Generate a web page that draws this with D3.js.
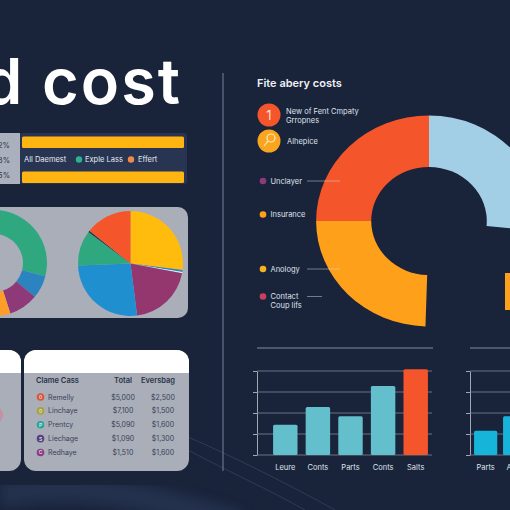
<!DOCTYPE html>
<html>
<head>
<meta charset="utf-8">
<script src="https://cdnjs.cloudflare.com/ajax/libs/d3/7.8.5/d3.min.js"></script>
<style>
  html, body { margin: 0; padding: 0; background: #19233a; overflow: hidden; }
  svg { display: block; }
  text { font-family: Inter, "Noto Sans", sans-serif; }
</style>
</head>
<body>
<script>
// values
var titleText = "d cost";
var sideTitle = "Fite abery costs";

var topRows = ["12%", "18%", "15%"];
var topBarNames = ["first", "middle", "last"];
var topBarValues = [100, 0, 100];
var topLegend = ["All Daemest", "Exple Lass", "Effert"];

var ringValues = [29, 7, 9, 15, 40];
var ringColors = ["#2fa87f", "#2b84c0", "#8e3a78", "#ff9d2b", "#f4552a"];
var pieValues = [27, 0.6, 0.4, 20, 26.4, 10.8, 0.5, 14.3];
var pieColors = ["#ffbc0d", "#2b84c0", "#e8ecf2", "#94376f", "#1f8fd0", "#2fa87f", "#232c45", "#f4552a"];

var tableHead = ["Clame Cass", "Total", "Eversbag"];
var tableNames = ["Remelly", "Linchaye", "Prentcy", "Liechage", "Redhaye"];
var tableTotal = ["$5,000", "$7,100", "$5,090", "$1,090", "$1,510"];
var tableOther = ["$2,500", "$1,500", "$1,600", "$1,300", "$1,600"];
var tableDots = ["#d8553f", "#a9a23d", "#2ba59b", "#59407f", "#8a3d84"];
var tableIcons = ["0", "0", "P", "S", "C"];

var donutValues = [26.5, 24, 24.5, 25];
var donutColors = ["#a3cfe6", "none", "#ffa01a", "#f4552a"];

var calloutNames = ["Unclayer", "Insurance", "Anology", "Contact"];
var calloutDots = ["#8e3a78", "#ffa01a", "#f5b221", "#c9405f"];

var barCats = ["Leure", "Conts", "Parts", "Conts ", "Salts"];
var barValues = [36, 57, 46, 82, 102];
var barColors = ["#62bfcb", "#62bfcb", "#62bfcb", "#62bfcb", "#f4552a"];

var bar2Cats = ["Parts", "Apts"];
var bar2Values = [29, 46];

var gridTicks = [0, 25, 50, 75, 100];

var width = 510, height = 510;
var svg = d3.select("body").append("svg").attr("width", width).attr("height", height);

// faint swooshes behind everything
svg.append("filter").attr("id", "soft").append("feGaussianBlur").attr("stdDeviation", 6);
var bands = [
  "M0 495 C70 480 150 495 240 525"
];
svg.selectAll("path.band").data(bands).enter().append("path")
  .attr("class", "band").attr("d", d => d)
  .attr("fill", "none").attr("stroke", "#2a3a5a").attr("stroke-width", 26)
  .attr("opacity", 0.6).attr("filter", "url(#soft)");
var swoosh = [
  "M188 437 C230 455 290 485 335 510",
  "M188 450 C225 470 270 490 305 510"
];
svg.selectAll("path.swoosh").data(swoosh).enter().append("path")
  .attr("class", "swoosh").attr("d", d => d)
  .attr("fill", "none").attr("stroke", "#34415f").attr("stroke-width", 1).attr("opacity", 0.8);

// divider
svg.append("line").attr("x1", 223).attr("x2", 223).attr("y1", 73).attr("y2", 471)
  .attr("stroke", "#78839a").attr("stroke-width", 1);

// title
svg.append("text").attr("x", 182).attr("y", 104).attr("text-anchor", "end")
  .attr("fill", "#fff").attr("font-size", 63).attr("font-weight", 600).attr("letter-spacing", 2).text(titleText);

// top block
svg.append("rect").attr("x", 20).attr("y", 133).attr("width", 167).attr("height", 51).attr("rx", 3).attr("fill", "#273552");
svg.append("rect").attr("x", -10).attr("y", 133).attr("width", 30).attr("height", 51).attr("fill", "#aab1bc");

var xTop = d3.scaleLinear().domain([0, 100]).range([22, 184]);
var yTop = d3.scaleBand().domain(topBarNames).range([133.5, 186]).paddingInner(0.34).paddingOuter(0.17);
svg.selectAll("rect.top").data(topBarValues).enter().append("rect")
  .attr("class", "top")
  .attr("x", xTop(0))
  .attr("y", (d, i) => yTop(topBarNames[i]))
  .attr("width", d => xTop(d) - xTop(0))
  .attr("height", yTop.bandwidth())
  .attr("rx", 1.5)
  .attr("fill", "#ffb511");

var yRows = d3.scalePoint().domain(topRows).range([148, 178]);
svg.selectAll("text.row").data(topRows).enter().append("text")
  .attr("class", "row").attr("x", 10).attr("y", d => yRows(d))
  .attr("text-anchor", "end").attr("font-size", 7.5).attr("fill", "#2a3348").text(d => d);

svg.append("text").attr("x", 24).attr("y", 162).attr("font-size", 7.5).attr("fill", "#e6eaf0").text(topLegend[0]);
svg.append("circle").attr("cx", 79).attr("cy", 159.5).attr("r", 3.2).attr("fill", "#2fb08f");
svg.append("text").attr("x", 85).attr("y", 162).attr("font-size", 7.5).attr("fill", "#e6eaf0").text(topLegend[1]);
svg.append("circle").attr("cx", 131).attr("cy", 159.5).attr("r", 3.2).attr("fill", "#ef8a4a");
svg.append("text").attr("x", 138).attr("y", 162).attr("font-size", 7.5).attr("fill", "#e6eaf0").text(topLegend[2]);

// pies panel
svg.append("rect").attr("x", -20).attr("y", 207).attr("width", 208).attr("height", 111).attr("rx", 10).attr("fill", "#a9aeb9");

var pieGen = d3.pie().sort(null);
var ringArc = d3.arc().innerRadius(29).outerRadius(53);
svg.append("g").attr("transform", "translate(-6,263)")
  .selectAll("path").data(pieGen(ringValues)).enter().append("path")
  .attr("d", ringArc).attr("fill", (d, i) => ringColors[i]);

var pieArc = d3.arc().innerRadius(0).outerRadius(52.5);
svg.append("g").attr("transform", "translate(130.5,263.5)")
  .selectAll("path").data(pieGen(pieValues)).enter().append("path")
  .attr("d", pieArc).attr("fill", (d, i) => pieColors[i]);

// table panels
function tablePanel(x, w) {
  var id = "clip" + (x + 100);
  svg.append("clipPath").attr("id", id).append("rect")
    .attr("x", x).attr("y", 350).attr("width", w).attr("height", 121).attr("rx", 12);
  var g = svg.append("g").attr("clip-path", "url(#" + id + ")");
  g.append("rect").attr("x", x).attr("y", 350).attr("width", w).attr("height", 121).attr("fill", "#a9aeb9");
  g.append("rect").attr("x", x).attr("y", 350).attr("width", w).attr("height", 23).attr("fill", "#fff");
  return g;
}
var leftPanel = tablePanel(-30, 51);
leftPanel.append("circle").attr("cx", -6).attr("cy", 415).attr("r", 9).attr("fill", "#c98a98").attr("opacity", 0.8);
tablePanel(24, 165);

var yTable = d3.scalePoint().domain(tableNames).range([399.5, 455]);
svg.append("text").attr("x", 36).attr("y", 383).attr("font-size", 7.5).attr("font-weight", 600).attr("fill", "#2a3348").text(tableHead[0]);
svg.append("text").attr("x", 123).attr("y", 383).attr("text-anchor", "middle").attr("font-size", 7.5).attr("font-weight", 600).attr("fill", "#2a3348").text(tableHead[1]);
svg.append("text").attr("x", 158).attr("y", 383).attr("text-anchor", "middle").attr("font-size", 7.5).attr("font-weight", 600).attr("fill", "#2a3348").text(tableHead[2]);

var rows = svg.selectAll("g.trow").data(tableNames).enter().append("g")
  .attr("class", "trow").attr("transform", d => "translate(0," + yTable(d) + ")");
rows.append("circle").attr("cx", 40.5).attr("cy", -2.5).attr("r", 3.8).attr("fill", (d, i) => tableDots[i]);
rows.append("text").attr("x", 40.5).attr("y", -0.6).attr("text-anchor", "middle").attr("font-size", 5).attr("fill", "#fff").text((d, i) => tableIcons[i]);
rows.append("text").attr("x", 48).attr("font-size", 7).attr("fill", "#3a4258").text(d => d);
rows.append("text").attr("x", 123).attr("text-anchor", "middle").attr("font-size", 7).attr("fill", "#3a4258").text((d, i) => tableTotal[i]);
rows.append("text").attr("x", 163).attr("text-anchor", "middle").attr("font-size", 7).attr("fill", "#3a4258").text((d, i) => tableOther[i]);

// right side
svg.append("text").attr("x", 257).attr("y", 87).attr("font-size", 11).attr("font-weight", 600).attr("fill", "#eef1f5").text(sideTitle);

svg.append("circle").attr("cx", 269).attr("cy", 115).attr("r", 11.5).attr("fill", "#f4552a");
svg.append("text").attr("x", 269).attr("y", 120).attr("text-anchor", "middle").attr("font-size", 13).attr("fill", "#ffe2d2").text("1");
svg.append("circle").attr("cx", 269).attr("cy", 141).attr("r", 11.5).attr("fill", "#f9a51e");
svg.append("circle").attr("cx", 271).attr("cy", 138).attr("r", 4).attr("fill", "none").attr("stroke", "#ffe9c4").attr("stroke-width", 1.2);
svg.append("line").attr("x1", 268).attr("y1", 141).attr("x2", 264).attr("y2", 146).attr("stroke", "#ffe9c4").attr("stroke-width", 1.2);
svg.append("text").attr("x", 286).attr("y", 114).attr("font-size", 7.5).attr("fill", "#dfe4ec").text("New of Fent Cmpaty");
svg.append("text").attr("x", 286).attr("y", 123).attr("font-size", 7.5).attr("fill", "#dfe4ec").text("Grropnes");
svg.append("text").attr("x", 287).attr("y", 143.5).attr("font-size", 7.5).attr("fill", "#dfe4ec").text("Alhepice");

// big donut, it is a bit wider than high in the picture
var donutArc = d3.arc().innerRadius(54).outerRadius(105.5);
svg.append("g").attr("transform", "translate(429,221) scale(1.07,1)")
  .selectAll("path").data(pieGen(donutValues)).enter().append("path")
  .attr("d", donutArc).attr("fill", (d, i) => donutColors[i]);

// cut off orange block on the right edge
svg.append("rect").attr("x", 505).attr("y", 273).attr("width", 10).attr("height", 37).attr("fill", "#ffa01a");

// callouts
var calloutY = [181, 214.5, 269, 296.5];
var calloutEnd = [340, null, 340, 322];
calloutNames.forEach(function(name, i) {
  svg.append("circle").attr("cx", 263).attr("cy", calloutY[i]).attr("r", 3.3).attr("fill", calloutDots[i]);
  svg.append("text").attr("x", 270.5).attr("y", calloutY[i] + 2.6).attr("font-size", 7.5).attr("fill", "#dfe4ec").text(name);
  if (calloutEnd[i]) {
    svg.append("line").attr("x1", 307).attr("x2", calloutEnd[i]).attr("y1", calloutY[i]).attr("y2", calloutY[i])
      .attr("stroke", "#d8dde6").attr("stroke-opacity", 0.6).attr("stroke-width", 0.8);
  }
});
svg.append("text").attr("x", 270.5).attr("y", 308).attr("font-size", 7.5).attr("fill", "#dfe4ec").text("Coup lifs");

// rules above the bar charts
svg.append("line").attr("x1", 257).attr("x2", 433).attr("y1", 348).attr("y2", 348).attr("stroke", "#a0a8b6").attr("stroke-width", 0.8);
svg.append("line").attr("x1", 470).attr("x2", 510).attr("y1", 348).attr("y2", 348).attr("stroke", "#a0a8b6").attr("stroke-width", 0.8);

// bar charts
var y = d3.scaleLinear().domain([0, 100]).range([455, 371]);

function drawBars(cats, vals, colors, axisX, x0, x1, gridEnd, pIn, pOut) {
  var x = d3.scaleBand().domain(cats).range([x0, x1]).paddingInner(pIn).paddingOuter(pOut);
  var axis = svg.append("g").attr("transform", "translate(" + axisX + ",0)")
    .call(d3.axisLeft(y).tickValues(gridTicks).tickSize(4).tickSizeOuter(0).tickFormat(""));
  axis.selectAll("path,line").attr("stroke", "#a0a8b6");
  axis.select(".domain").attr("stroke-width", 1);
  svg.selectAll(null).data(gridTicks).enter().append("line")
    .attr("x1", axisX).attr("x2", gridEnd)
    .attr("y1", d => y(d)).attr("y2", d => y(d))
    .attr("stroke", "#7d8698").attr("stroke-width", 0.8);
  svg.selectAll(null).data(vals).enter().append("rect")
    .attr("x", (d, i) => x(cats[i]))
    .attr("y", d => y(d))
    .attr("width", x.bandwidth())
    .attr("height", d => y(0) - y(d))
    .attr("rx", 1.5)
    .attr("fill", (d, i) => colors[i]);
  svg.selectAll(null).data(cats).enter().append("text")
    .attr("x", d => x(d) + x.bandwidth() / 2)
    .attr("y", 470)
    .attr("text-anchor", "middle").attr("font-size", 7.5).attr("fill", "#dfe4ec")
    .text(d => d.trim());
}
drawBars(barCats, barValues, barColors, 257, 269, 432, 432, 0.25, 0.125);
drawBars(bar2Cats, bar2Values, ["#16b4d8", "#16b4d8"], 470, 470, 530.3, 510, 0.2, 0.14);
</script>
</body>
</html>
